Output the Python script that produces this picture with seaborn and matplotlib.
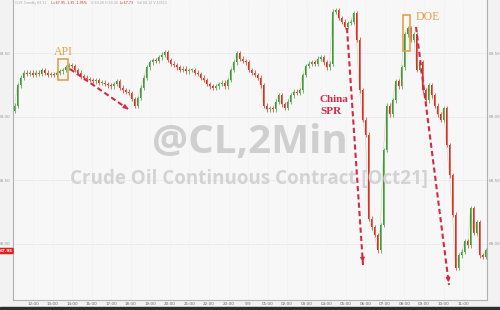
import numpy as np
import pandas as pd
import matplotlib
matplotlib.use("Agg")
import matplotlib.pyplot as plt
import seaborn as sns
from matplotlib.patches import Rectangle

# ---- data (2-min bars, closes) ----
closes = [
    69.09, 69.25, 69.31, 69.35, 69.34, 69.35, 69.33, 69.35, 69.34, 69.37,
    69.35, 69.33, 69.34, 69.33, 69.35, 69.36, 69.37, 69.39, 69.41, 69.40,
    69.37, 69.35, 69.32, 69.31, 69.30, 69.29, 69.28, 69.29, 69.27, 69.27,
    69.26, 69.25, 69.24, 69.26, 69.28, 69.23, 69.21, 69.20, 69.19, 69.14,
    69.09, 69.15, 69.23, 69.31, 69.39, 69.43, 69.45, 69.44, 69.47, 69.49,
    69.51, 69.45, 69.42, 69.41, 69.39, 69.37, 69.38, 69.36, 69.37, 69.37,
    69.35, 69.34, 69.31, 69.29, 69.26, 69.24, 69.23, 69.24, 69.26, 69.27,
    69.24, 69.29, 69.37, 69.43, 69.50, 69.46, 69.44, 69.43, 69.37, 69.35,
    69.33, 69.31, 69.25, 69.09, 69.06, 69.07, 69.06, 69.12, 69.17, 69.10,
    69.07, 69.12, 69.17, 69.20, 69.19, 69.21, 69.33, 69.40, 69.42, 69.43,
    69.42, 69.46, 69.47, 69.43, 69.39, 69.42, 69.83, 69.84, 69.78, 69.75,
    69.71, 69.74, 69.75, 69.82, 69.61, 69.21, 68.98, 68.86, 68.20, 68.13,
    68.07, 67.95, 68.15, 68.74, 69.09, 69.02, 69.13, 69.28, 69.24, 69.39,
    69.65, 69.70, 69.61, 69.65, 69.37, 69.43, 69.21, 69.13, 69.25, 69.17,
    69.09, 69.02, 68.98, 69.07, 68.78, 68.54, 68.23, 67.81, 67.91, 67.94,
    68.02, 67.99, 68.28, 68.09, 68.17, 67.91, 67.90, 67.95,
]
first_open = 69.05
hour_labels = ["12:00", "13:00", "14:00", "16:00", "17:00", "18:00", "19:00",
               "20:00", "21:00", "22:00", "23:00", "9/9", "01:00", "02:00",
               "03:00", "04:00", "05:00", "06:00", "07:00", "08:00", "09:00",
               "10:00", "11:00"]
price_ticks = [68.00, 68.50, 69.00, 69.50]
last_price = 67.95

# ---- style ----
sns.set_theme(style="white")
plt.rcParams["font.family"] = ["DejaVu Sans"]

W, H = 500, 310
fig = plt.figure(figsize=(W / 100, H / 100), dpi=100, facecolor="#f2f2f2")
ax = fig.add_axes([13 / W, 10 / H, 474 / W, 300 / H])
ax.set_facecolor("#f7f7f7")

df = pd.DataFrame({"close": closes})
df["open"] = df["close"].shift(1).fillna(first_open)
df["x"] = np.arange(len(df))
up = df["close"] >= df["open"]
green, red = "#3f9b35", "#d8321f"
cols = np.where(up, green, red)

body = (df["close"] - df["open"]).to_numpy()
body = np.where(np.abs(body) < 0.004, np.where(body >= 0, 0.004, -0.004), body)
wick = 0.018
hi = np.maximum(df["open"], df["close"]) + wick
lo = np.minimum(df["open"], df["close"]) - wick

ax.vlines(df["x"], lo, hi, colors=cols, lw=0.5, zorder=3)
ax.bar(df["x"], body, bottom=df["open"], width=0.55, color=cols, linewidth=0, zorder=4)
sns.lineplot(x=df["x"], y=df["close"], ax=ax, color="#7a5a20", lw=0.3, alpha=0.35, zorder=2)

ax.set_xlim(-0.5, 157.5)
ax.set_ylim(67.559, 69.921)

# ticks
xt = [(33 - 14.5 + 19.55 * k) / 3 for k in range(len(hour_labels))]
ax.set_xticks(xt)
ax.set_xticklabels(hour_labels, fontsize=3, color="#666666")
ax.set_yticks(price_ticks)
ax.set_yticklabels([f"{p:.2f}" for p in price_ticks], fontsize=3, color="#999999")
ax.tick_params(axis="both", length=0, pad=1.5)
ax.tick_params(axis="y", labelright=True, pad=1.5)
ax.set_xlabel("")
ax.set_ylabel("")
ax.grid(axis="y", color="#e8e8e8", lw=0.5)
ax.grid(axis="x", color="#f0f0f0", lw=0.4)
for s in ["left", "right", "bottom"]:
    ax.spines[s].set_visible(True)
    ax.spines[s].set_color("#b0b0b0")
    ax.spines[s].set_linewidth(0.8)
ax.spines["top"].set_visible(False)

# bottom dark strip
fig.patches.append(Rectangle((0, 0), 1, 3 / H, transform=fig.transFigure,
                             color="#2e2e2e", zorder=10))

def fp(px, py):
    return px / W, 1 - py / H

# watermark
fig.text(*fp(250, 143), "@CL,2Min", fontsize=29, color="#cfcfcf",
         ha="center", va="center", family="Open Sans", weight="bold", zorder=1)
fig.text(*fp(249, 179), "Crude Oil Continuous Contract [Oct21]", fontsize=13.5,
         color="#d3d3d3", ha="center", va="center", family="Open Sans",
         weight="bold", zorder=1)

# header
hdr = dict(fontsize=2.3, va="center")
fig.text(*fp(15, 3), "CLV1 Comdty 69.31", color="#aaaaaa", **hdr)
fig.text(*fp(51, 3), "L=67.95 -1.35 -1.95%", color="#c0392b", **hdr)
fig.text(*fp(91, 3), "O 69.28 H 69.40", color="#aaaaaa", **hdr)
fig.text(*fp(120, 3), "L=67.73", color="#c0392b", **hdr)
fig.text(*fp(137, 3), "Val 68.12 V 40513", color="#aaaaaa", **hdr)

# last price tag
fig.text(*fp(6, 251), f"{last_price:.2f}", fontsize=3, color="white", ha="center",
         va="center", weight="bold",
         bbox=dict(boxstyle="round,pad=0.3", fc="#e0201b", ec="none"))

orange = "#e3a04a"
crimson = "#d42a45"

def box(x0, y0, x1, y1):
    fig.patches.append(Rectangle(fp(x0, y1), (x1 - x0) / W, (y1 - y0) / H,
                                 transform=fig.transFigure, fill=False,
                                 ec=orange, lw=1.2, zorder=20))

def dashed_arrow(x0, y0, x1, y1):
    (a, b), (c, d) = fp(x0, y0), fp(x1, y1)
    fig.add_artist(plt.Line2D([a, c], [b, d], transform=fig.transFigure,
                              color=crimson, lw=1.5, ls=(0, (2.5, 1.5)), zorder=21))
    t = 0.97
    fig.add_artist(matplotlib.patches.FancyArrowPatch(
        (a + (c - a) * t, b + (d - b) * t), (c, d), transform=fig.transFigure,
        arrowstyle="-|>", mutation_scale=6, color=crimson, lw=1, zorder=22))

# API
fig.text(*fp(63, 52), "API", fontsize=8.5, color=orange, ha="center", va="center",
         family="Liberation Serif")
box(58, 59, 68, 80)
dashed_arrow(70, 69, 128, 109)

# China SPR
fig.text(*fp(319, 99), "China", fontsize=8, color=crimson, ha="left", va="center",
         family="Liberation Serif", weight="bold")
fig.text(*fp(320, 111), "SPR", fontsize=8, color=crimson, ha="left", va="center",
         family="Liberation Serif", weight="bold")
dashed_arrow(347, 28, 363, 265)

# DOE
fig.text(*fp(416, 17), "DOE", fontsize=8.5, color=orange, ha="left", va="center",
         family="Liberation Serif")
box(403, 15, 410, 51)
dashed_arrow(416, 27, 449, 285)

fig.savefig("out.png", dpi=100, facecolor=fig.get_facecolor())
